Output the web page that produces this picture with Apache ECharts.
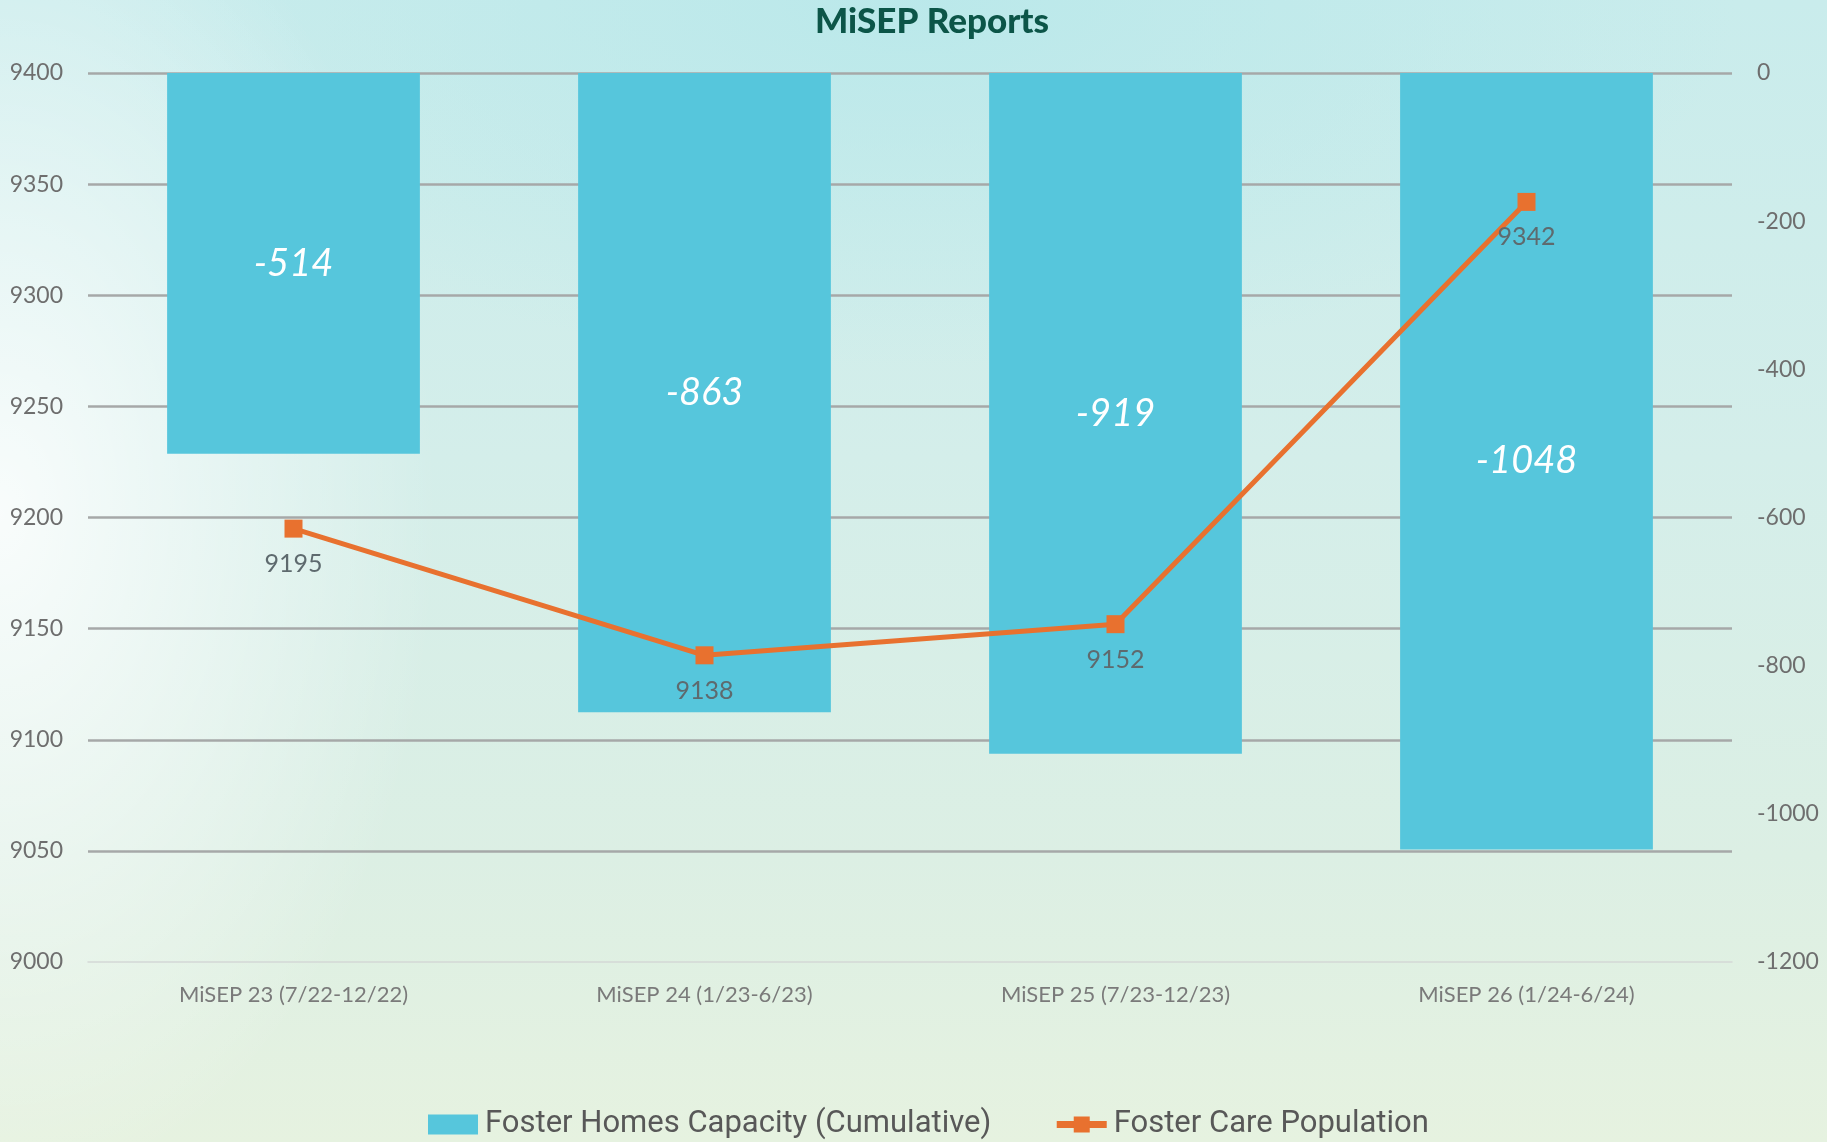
<!DOCTYPE html>
<html>
<head>
<meta charset="utf-8">
<script src="https://cdn.jsdelivr.net/npm/echarts@6/dist/echarts.min.js"></script>
<style>
html, body { margin: 0; padding: 0; }
#bg {
  position: absolute; left: 0; top: 0; width: 1827px; height: 1142px;
  background:
    radial-gradient(ellipse 24% 60% at 0% 45%, rgba(255,255,255,0.85), rgba(255,255,255,0) 100%),
    radial-gradient(ellipse 45% 32% at 50% 0%, rgba(185,232,234,0.9), rgba(185,232,234,0) 100%),
    linear-gradient(to bottom, #c9ecec 0%, #d4eeea 40%, #dcefe4 75%, #e6f2e0 100%);
}
#chart { position: absolute; left: 0; top: 0; width: 1827px; height: 1142px; }
</style>
</head>
<body>
<div id="bg"></div>
<div id="chart"></div>
<script>
const categories = ['MiSEP 23 (7/22-12/22)', 'MiSEP 24 (1/23-6/23)', 'MiSEP 25 (7/23-12/23)', 'MiSEP 26 (1/24-6/24)'];
const capacity = [-514, -863, -919, -1048];
const population = [9195, 9138, 9152, 9342];
const leftTicks = { min: 9000, max: 9400, interval: 50 };
const rightTicks = { min: -1200, max: 0, interval: 200 };

const chart = echarts.init(document.getElementById('chart'), null, { renderer: 'canvas' });
const font = 'Lato, "Open Sans", sans-serif';
chart.setOption({
  backgroundColor: 'transparent',
  animation: false,
  title: {
    text: 'MiSEP Reports',
    left: 927, top: -1, textAlign: 'center',
    textStyle: { fontFamily: font, fontWeight: 900, fontSize: 35, color: '#0c5548' }
  },
  legend: {
    left: 423, top: 1104,
    itemWidth: 50, itemHeight: 20, itemGap: 62,
    textStyle: { fontFamily: '"Liberation Sans Narrow", "Roboto", sans-serif', fontSize: 31, color: '#585858', padding: [0, 0, 0, 2] },
    data: [
      { name: 'Foster Homes Capacity (Cumulative)', icon: 'rect' },
      { name: 'Foster Care Population', lineStyle: { width: 7 } }
    ]
  },
  grid: { left: 88, right: 95, top: 73, bottom: 180, containLabel: false },
  xAxis: {
    type: 'category',
    data: categories,
    axisLine: { show: true, onZero: false, lineStyle: { color: '#d4d8d6', width: 1.5 } },
    axisTick: { show: false },
    axisLabel: { fontFamily: font, fontSize: 22, color: '#7a7a7a', margin: 22 }
  },
  yAxis: [
    {
      type: 'value', position: 'left',
      min: leftTicks.min, max: leftTicks.max, interval: leftTicks.interval,
      axisLine: { show: false }, axisTick: { show: false },
      axisLabel: { fontFamily: font, fontSize: 23, color: '#6e6e6e', margin: 25, formatter: v => String(v) },
      splitLine: { show: true, showMinLine: false, lineStyle: { color: '#a6a8a8', width: 2.5 } }
    },
    {
      type: 'value', position: 'right',
      min: rightTicks.min, max: rightTicks.max, interval: rightTicks.interval,
      axisLine: { show: false }, axisTick: { show: false },
      axisLabel: { fontFamily: font, fontSize: 23, color: '#6e6e6e', margin: 25, formatter: v => String(v) },
      splitLine: { show: false }
    }
  ],
  series: [
    {
      name: 'Foster Homes Capacity (Cumulative)',
      type: 'bar',
      yAxisIndex: 1,
      data: capacity,
      barWidth: '61.5%',
      itemStyle: { color: '#56c6dc' },
      label: {
        show: true, position: 'inside',
        fontFamily: font, fontStyle: 'italic', fontWeight: 'normal', fontSize: 38, color: '#ffffff'
      },
      z: 2
    },
    {
      name: 'Foster Care Population',
      type: 'line',
      yAxisIndex: 0,
      data: population,
      symbol: 'rect', symbolSize: 18,
      lineStyle: { color: '#e8712f', width: 5 },
      itemStyle: { color: '#e8712f' },
      label: {
        show: true, position: 'bottom', distance: 14,
        fontFamily: font, fontSize: 25, color: '#5e6a6e'
      },
      z: 5
    }
  ]
});
</script>
</body>
</html>
